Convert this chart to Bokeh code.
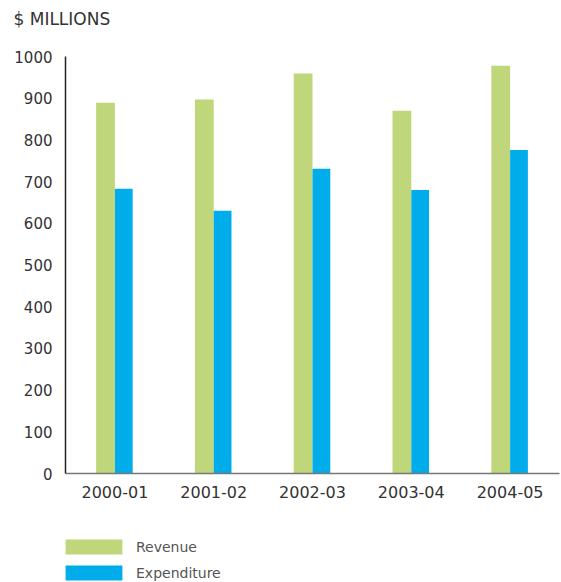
from bokeh.plotting import figure
from bokeh.layouts import column
from bokeh.models import FactorRange, Range1d, Legend, LegendItem, ColumnDataSource
from bokeh.transform import dodge
from bokeh.embed import file_html
from bokeh.resources import INLINE

years = ["2000-01", "2001-02", "2002-03", "2003-04", "2004-05"]
revenue = [889, 897, 959, 870, 978]
expenditure = [683, 630, 731, 680, 776]
y_ticks = [0, 100, 200, 300, 400, 500, 600, 700, 800, 900, 1000]
series_names = ["Revenue", "Expenditure"]
series_colors = ["#BFD67A", "#00ADEA"]
unit_title = "$ MILLIONS"

FONT = "DejaVu Sans"

# title strip
tf = figure(width=561, height=40, output_backend="svg", toolbar_location=None,
            x_range=Range1d(0, 1), y_range=Range1d(0, 1),
            x_axis_type=None, y_axis_type=None,
            min_border_left=65, min_border_right=2, min_border_top=0, min_border_bottom=0)
tf.grid.visible = False
tf.outline_line_color = None
tf.title.text = unit_title
tf.title.text_font = FONT
tf.title.text_font_size = "17px"
tf.title.text_font_style = "normal"
tf.title.text_color = "#333333"
tf.title.align = "left"
tf.title.offset = -52
tf.title.vertical_align = "top"
tf.title.standoff = 16

src = ColumnDataSource(dict(years=years, revenue=revenue, expenditure=expenditure))

p = figure(width=561, height=480, x_range=FactorRange(*years, range_padding=0),
           y_range=Range1d(0, 1000), output_backend="svg", toolbar_location=None,
           min_border_left=65, min_border_right=2, min_border_top=16, min_border_bottom=47)

r1 = p.vbar(x=dodge("years", -0.095, range=p.x_range), top="revenue", width=0.19,
            source=src, color=series_colors[0], line_color=None)
r2 = p.vbar(x=dodge("years", 0.09, range=p.x_range), top="expenditure", width=0.18,
            source=src, color=series_colors[1], line_color=None)

p.xgrid.visible = False
p.ygrid.visible = False
p.outline_line_color = None

p.yaxis.ticker = y_ticks
p.yaxis.axis_line_color = "#222222"
p.yaxis.axis_line_width = 1.5
p.yaxis.major_tick_line_color = None
p.yaxis.minor_tick_line_color = None
p.yaxis.major_label_standoff = 7
p.yaxis.major_label_text_font = FONT
p.yaxis.major_label_text_font_size = "15px"
p.yaxis.major_label_text_color = "#333333"

p.xaxis.axis_line_color = "#777777"
p.xaxis.axis_line_width = 1.5
p.xaxis.major_tick_line_color = None
p.xaxis.minor_tick_line_color = None
p.xaxis.major_label_standoff = 6
p.xaxis.major_label_text_font = FONT
p.xaxis.major_label_text_font_size = "16px"
p.xaxis.major_label_text_color = "#333333"

# legend strip
lf = figure(width=561, height=62, output_backend="svg", toolbar_location=None,
            x_range=FactorRange(*series_names), y_range=Range1d(0, 1),
            x_axis_type=None, y_axis_type=None,
            min_border_left=65, min_border_right=2, min_border_top=0, min_border_bottom=0)
lf.grid.visible = False
lf.outline_line_color = None
lsrc = ColumnDataSource(dict(name=series_names, color=series_colors,
                             base=[0] * len(series_names)))
lr = lf.vbar(x="name", top="base", bottom="base", width=0.0, fill_color="color",
             line_color=None, source=lsrc)
items = [LegendItem(label=n, renderers=[lr], index=i) for i, n in enumerate(series_names)]
legend = Legend(items=items, location=(-7, 0), orientation="vertical",
                glyph_width=71, glyph_height=19, label_height=19, spacing=7,
                label_standoff=7, padding=0, margin=0,
                border_line_color=None, background_fill_alpha=0,
                label_text_font=FONT, label_text_font_size="14px",
                label_text_color="#555555")
lf.add_layout(legend, "center")

layout = column(tf, p, lf, spacing=0)
open("out.html", "w").write(file_html(layout, INLINE))
